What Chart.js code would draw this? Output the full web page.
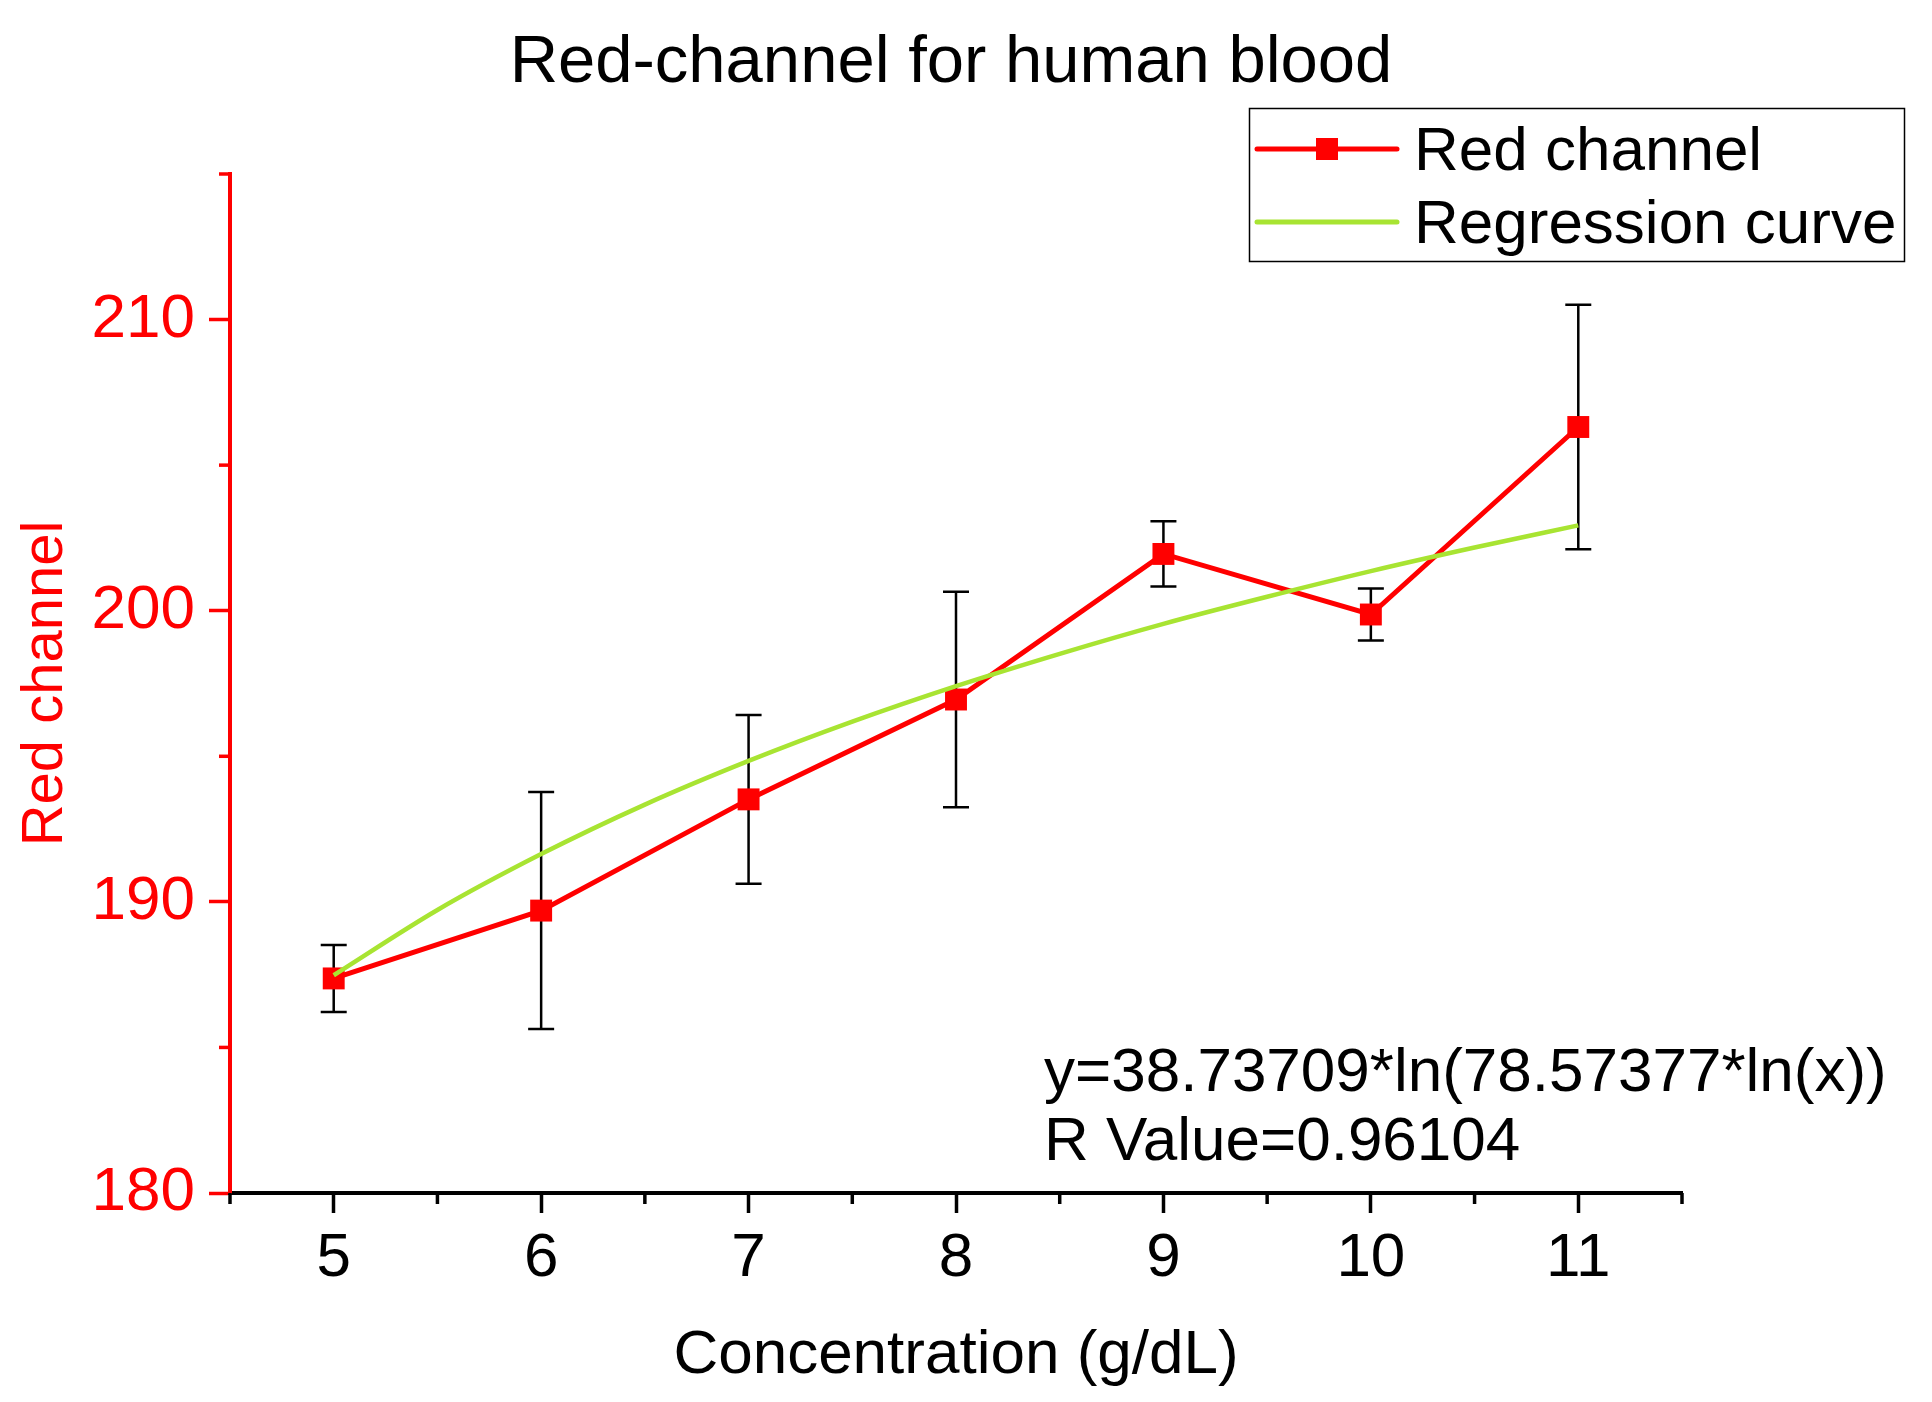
<!DOCTYPE html>
<html>
<head>
<meta charset="utf-8">
<title>Red-channel for human blood</title>
<script src="https://cdn.jsdelivr.net/npm/chart.js@4.4.1/dist/chart.umd.min.js"></script>
<style>
  html, body { margin: 0; padding: 0; background: #fff; }
  #wrap { width: 1932px; height: 1402px; }
</style>
</head>
<body>
<div id="wrap"><canvas id="bloodChart" width="1932" height="1402"></canvas></div>
<script>
// values
const concentrations = [5, 6, 7, 8, 9, 10, 11];
const redValues = [187.37, 189.70, 193.52, 196.95, 201.95, 199.87, 206.31];
const redErrors = [1.15, 4.07, 2.90, 3.70, 1.12, 0.89, 4.20];

// regression curve, read at half steps along the green line
const curveX = [5, 5.5, 6, 6.5, 7, 7.5, 8, 8.5, 9, 9.5, 10, 10.5, 11];
const curveY = [187.48, 189.72, 191.64, 193.34, 194.84, 196.19, 197.41, 198.52, 199.55, 200.48, 201.36, 202.17, 202.93];

const xMajorTicks = [5, 6, 7, 8, 9, 10, 11];
const yMajorTicks = [180, 190, 200, 210];

const titleText = 'Red-channel for human blood';
const legendLabels = ['Red channel', 'Regression curve'];
const equationLines = ['y=38.73709*ln(78.57377*ln(x))', 'R Value=0.96104'];

const FONT = "'Liberation Sans', Arial, sans-serif";
const RED = '#ff0000';
const GREEN = '#a8e432';

const overlay = {
    id: 'overlay',
    beforeDatasetsDraw(chart) {
        // error bars sit under the markers
        const { ctx, scales: { x, y } } = chart;
        ctx.save();
        ctx.strokeStyle = '#000';
        ctx.lineWidth = 2.5;
        concentrations.forEach((c, i) => {
            const px = x.getPixelForValue(c);
            const top = y.getPixelForValue(redValues[i] + redErrors[i]);
            const bot = y.getPixelForValue(redValues[i] - redErrors[i]);
            ctx.beginPath();
            ctx.moveTo(px, top); ctx.lineTo(px, bot);
            ctx.moveTo(px - 13, top); ctx.lineTo(px + 13, top);
            ctx.moveTo(px - 13, bot); ctx.lineTo(px + 13, bot);
            ctx.stroke();
        });
        ctx.restore();
    },
    afterDraw(chart) {
        const { ctx, chartArea, scales: { x, y } } = chart;
        ctx.save();

        // minor ticks
        ctx.lineWidth = 3.5;
        ctx.strokeStyle = '#000';
        x.ticks.forEach(t => {
            if (xMajorTicks.includes(t.value)) return;
            const px = x.getPixelForValue(t.value);
            ctx.beginPath();
            ctx.moveTo(px, chartArea.bottom);
            ctx.lineTo(px, chartArea.bottom + 11);
            ctx.stroke();
        });
        ctx.strokeStyle = RED;
        y.ticks.forEach(t => {
            if (yMajorTicks.includes(t.value)) return;
            const py = y.getPixelForValue(t.value);
            ctx.beginPath();
            ctx.moveTo(chartArea.left, py);
            ctx.lineTo(chartArea.left - 11, py);
            ctx.stroke();
        });

        // title
        ctx.fillStyle = '#000';
        ctx.textAlign = 'center';
        ctx.textBaseline = 'alphabetic';
        ctx.font = '67px ' + FONT;
        ctx.fillText(titleText, 951, 82);

        // legend box
        ctx.lineWidth = 1.5;
        ctx.strokeStyle = '#000';
        ctx.strokeRect(1249.5, 108.5, 655, 153);
        ctx.lineWidth = 5;
        ctx.lineCap = 'round';
        ctx.strokeStyle = RED;
        ctx.beginPath();
        ctx.moveTo(1257, 149); ctx.lineTo(1397, 149);
        ctx.stroke();
        ctx.fillStyle = RED;
        ctx.fillRect(1316, 138, 22, 22);
        ctx.strokeStyle = GREEN;
        ctx.beginPath();
        ctx.moveTo(1257, 222); ctx.lineTo(1397, 222);
        ctx.stroke();
        ctx.fillStyle = '#000';
        ctx.textAlign = 'left';
        ctx.font = '62px ' + FONT;
        ctx.fillText(legendLabels[0], 1414, 170);
        ctx.fillText(legendLabels[1], 1414, 243);

        // fit equation
        ctx.fillText(equationLines[0], 1044, 1091);
        ctx.fillText(equationLines[1], 1044, 1160);

        ctx.restore();
    }
};

const ctx = document.getElementById('bloodChart').getContext('2d');
new Chart(ctx, {
    type: 'line',
    data: {
        datasets: [{
            label: legendLabels[0],
            data: concentrations.map((c, i) => ({ x: c, y: redValues[i] })),
            borderColor: RED,
            backgroundColor: RED,
            borderWidth: 5,
            pointStyle: 'rect',
            pointRadius: 15.5,
            pointBorderWidth: 0,
            pointBackgroundColor: RED,
            tension: 0,
            order: 2
        }, {
            label: legendLabels[1],
            data: curveX.map((c, i) => ({ x: c, y: curveY[i] })),
            borderColor: GREEN,
            borderWidth: 4.5,
            pointRadius: 0,
            cubicInterpolationMode: 'monotone',
            order: 1
        }]
    },
    options: {
        responsive: false,
        animation: false,
        devicePixelRatio: 1,
        layout: { padding: { top: 174, right: 250, left: 0, bottom: 0 } },
        plugins: {
            legend: { display: false },
            title: { display: false },
            tooltip: { enabled: false }
        },
        scales: {
            x: {
                type: 'linear',
                min: 4.5,
                max: 11.5,
                afterFit: s => { s.height = 209; s.paddingLeft = 0; s.paddingRight = 0; },
                ticks: {
                    stepSize: 0.5,
                    autoSkip: false,
                    maxRotation: 0,
                    padding: 9,
                    color: '#000',
                    font: { family: FONT, size: 62 },
                    callback: v => xMajorTicks.includes(v) ? String(v) : ''
                },
                grid: {
                    drawOnChartArea: false,
                    drawTicks: true,
                    tickLength: 20,
                    tickWidth: 3.5,
                    tickColor: c => xMajorTicks.includes(c.tick.value) ? '#000' : 'rgba(0,0,0,0)'
                },
                border: { color: '#000', width: 4 },
                title: {
                    display: true,
                    text: 'Concentration (g/dL)',
                    color: '#000',
                    font: { family: FONT, size: 62 },
                    padding: { top: 0, bottom: 9 }
                }
            },
            y: {
                min: 180,
                max: 215,
                afterFit: s => { s.width = 230; s.paddingTop = 0; s.paddingBottom = 0; },
                ticks: {
                    stepSize: 5,
                    autoSkip: false,
                    padding: 14,
                    color: RED,
                    font: { family: FONT, size: 62 },
                    callback: v => yMajorTicks.includes(v) ? String(v) : ''
                },
                grid: {
                    drawOnChartArea: false,
                    drawTicks: true,
                    tickLength: 21,
                    tickWidth: 3.5,
                    tickColor: c => yMajorTicks.includes(c.tick.value) ? RED : 'rgba(0,0,0,0)'
                },
                border: { color: RED, width: 4 },
                title: {
                    display: true,
                    text: 'Red channel',
                    color: RED,
                    font: { family: FONT, size: 58 },
                    padding: { top: 11, bottom: 0 }
                }
            }
        }
    },
    plugins: [overlay]
});
</script>
</body>
</html>
